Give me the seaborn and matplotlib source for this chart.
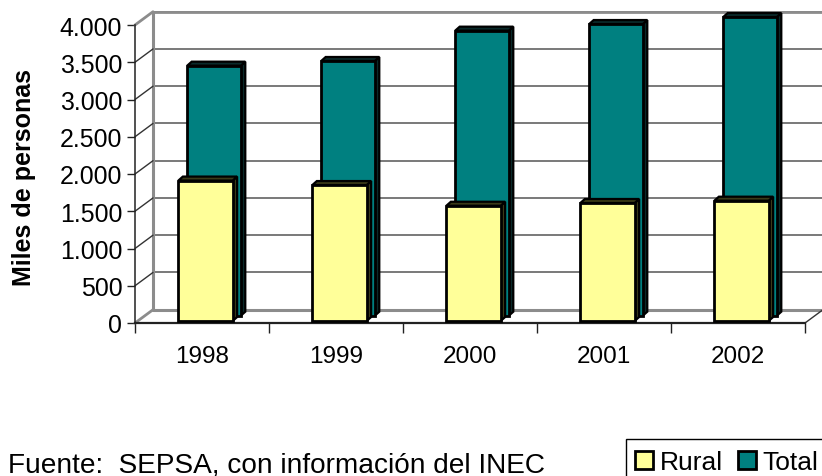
import matplotlib
matplotlib.use("Agg")
import matplotlib.pyplot as plt
import matplotlib.transforms as mtransforms
import numpy as np
import pandas as pd
import seaborn as sns
from matplotlib.patches import Patch, Polygon, Rectangle

years = ["1998", "1999", "2000", "2001", "2002"]
rural = [1885, 1825, 1547, 1584, 1615]
total = [3356, 3419, 3826, 3915, 4009]
y_ticks = [0, 500, 1000, 1500, 2000, 2500, 3000, 3500, 4000]
y_labels = ["0", "500", "1.000", "1.500", "2.000", "2.500", "3.000", "3.500", "4.000"]

RURAL_C = "#FFFF99"
TOTAL_C = "#008080"
W, H = 822, 477

sns.set_style("white")
plt.rcParams["font.family"] = ["Liberation Sans", "DejaVu Sans"]
plt.rcParams["text.color"] = "black"

df = pd.DataFrame({"year": years, "rural": rural, "total": total})

fig = plt.figure(figsize=(W / 100, H / 100), dpi=100)
ax = fig.add_axes([135 / W, 1 - 324 / H, 670 / W, 298 / H])
ax.patch.set_alpha(0)
px = mtransforms.IdentityTransform()


def shifted(dx, dy):
    # pixel shift for the fake depth of the 3d chart
    return ax.transData + mtransforms.Affine2D().translate(dx, dy)


def draw_depth(patches, dx, dy, dark, z):
    for p in list(patches):
        x0, x1 = p.get_x(), p.get_x() + p.get_width()
        y1 = p.get_height()
        p.set_transform(shifted(dx, dy))
        p.set_zorder(z + 1)
        p.set_clip_on(False)
        bl, tl, tr, br = shifted(dx, dy).transform([(x0, 0), (x0, y1), (x1, y1), (x1, 0)])
        d = np.array([4.5, 4])
        side = Polygon([br, tr, tr + d, br + d], closed=True, transform=px,
                       fc=dark, ec="black", lw=1.6, zorder=z, clip_on=False)
        top = Polygon([tl, tr, tr + d, tl + d], closed=True, transform=px,
                      fc=dark, ec="black", lw=1.6, zorder=z, clip_on=False)
        ax.add_artist(side)
        ax.add_artist(top)


sns.barplot(data=df, x="year", y="total", color=TOTAL_C, width=0.4, saturation=1,
            edgecolor="black", linewidth=2, ax=ax)
total_bars = list(ax.patches)
sns.barplot(data=df, x="year", y="rural", color=RURAL_C, width=0.405, saturation=1,
            edgecolor="black", linewidth=2, ax=ax)
rural_bars = list(ax.patches)[len(total_bars):]

ax.set_xlim(-0.5, 4.5)
ax.set_ylim(0, 4000)
fig.canvas.draw()

draw_depth(total_bars, 12, 7.3, "#0a2a2a", 3)
draw_depth(rural_bars, 3.5, 2, "#3a3a18", 5)

# back wall
back = shifted(18, 13.3)
wall_x = [-0.5, 4.7]
for v in y_ticks[1:]:
    ax.plot(wall_x, [v, v], transform=back, color="#555555", lw=1.1, zorder=1, clip_on=False)
ax.plot(wall_x, [4000, 4000], transform=back, color="#8c8c8c", lw=2, zorder=1, clip_on=False)
ax.plot(wall_x, [0, 0], transform=back, color="#8c8c8c", lw=2.2, zorder=1, clip_on=False)
ax.plot([-0.5, -0.5], [0, 4000], transform=back, color="#8c8c8c", lw=2.2, zorder=1, clip_on=False)

# side wall and floor edges
to_px = ax.transData.transform
for v in y_ticks:
    a = to_px((-0.5, v))
    b = a + np.array([18, 13.3])
    col = "#8c8c8c" if v in (0, 4000) else "#333333"
    lw = 2 if v in (0, 4000) else 1
    ax.add_artist(plt.Line2D([a[0], b[0]], [a[1], b[1]], transform=px, color=col, lw=lw,
                             zorder=1, clip_on=False))
a = to_px((4.5, 0))
ax.add_artist(plt.Line2D([a[0], a[0] + 18], [a[1], a[1] + 13.3], transform=px, color="#333333",
                         lw=1, zorder=1, clip_on=False))

for s in ["top", "right"]:
    ax.spines[s].set_visible(False)
for s in ["left", "bottom"]:
    ax.spines[s].set_color("#222222")
ax.spines["left"].set_linewidth(1.1)
ax.spines["bottom"].set_linewidth(1.6)
ax.spines["bottom"].set_zorder(2)

ax.set_yticks(y_ticks, y_labels, fontsize=17.9, color="black")
ax.tick_params(axis="y", left=True, length=5.8, width=1, color="#222222", pad=3.4)
ax.set_xticks(range(5), years, fontsize=17.5, color="black")
ax.set_xticks(np.arange(-0.5, 5), minor=True)
ax.tick_params(axis="x", which="major", bottom=False, pad=12)
ax.tick_params(axis="x", which="minor", bottom=True, length=7, width=1, color="#222222")
ax.set_xlabel("")
ax.set_ylabel("")

fig.text(23.5 / W, 1 - 177.5 / H, "Miles de personas", rotation=90, ha="center", va="center",
         fontsize=18, fontweight="bold")
fig.text(8 / W, 1 - 472.5 / H, "Fuente:  SEPSA, con información del INEC", ha="left",
         va="baseline", fontsize=20.2)

# legend box runs past the canvas like in the original
fig.add_artist(Rectangle((626 / W, -0.02), 210 / W, 1 - 439.5 / H + 0.02, transform=fig.transFigure,
                         fc="white", ec="black", lw=1))
handles = [Patch(fc=RURAL_C, ec="black", lw=2, label="Rural"),
           Patch(fc=TOTAL_C, ec="black", lw=2, label="Total")]
leg = fig.legend(handles=handles, loc="upper left", bbox_to_anchor=(623.1 / W, 1 - 439.5 / H), ncols=2,
                 frameon=False, fontsize=19, handlelength=0.68, handleheight=0.7,
                 handletextpad=0.27, columnspacing=0.55, borderpad=0.45, borderaxespad=0)
leg.set_zorder(10)

fig.savefig("out.png", dpi=100)
